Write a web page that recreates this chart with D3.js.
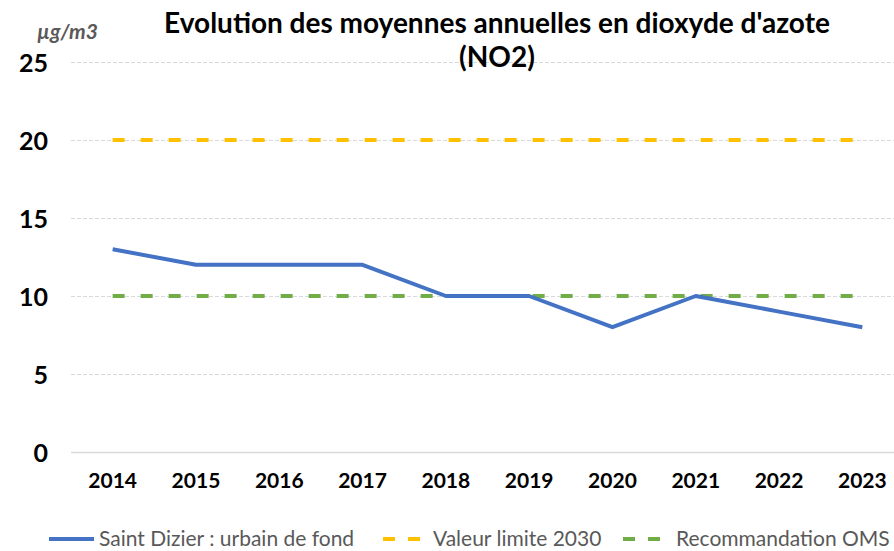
<!DOCTYPE html>
<html><head><meta charset="utf-8">
<script src="https://cdn.jsdelivr.net/npm/d3@7"></script>
<style>body{margin:0;background:#fff;overflow:hidden}svg{display:block;font-family:Lato,sans-serif}</style>
</head><body><svg id="c" width="894" height="551"></svg>
<script>
const years = ["2014","2015","2016","2017","2018","2019","2020","2021","2022","2023"];
const saintDizier = [13,12,12,12,10,10,8,10,9,8];
const valeurLimite = [20,20,20,20,20,20,20,20,20,20];
const recommandationOMS = [10,10,10,10,10,10,10,10,10,10];
const yTicks = [0,5,10,15,20,25];
const seriesNames = ["Saint Dizier : urbain de fond","Valeur limite 2030","Recommandation OMS"];
const colors = ["#4472c4","#ffc000","#70ad47"];

const svg = d3.select("#c");
const x = d3.scaleBand().domain(years).range([71, 904]);
const y = d3.scaleLinear().domain([0,25]).range([452, 62]);

// gridlines
const grid = svg.append("g").call(d3.axisLeft(y).tickValues(yTicks).tickSize(-833).tickFormat(""))
  .attr("transform","translate(71,0)");
grid.select(".domain").remove();
grid.selectAll(".tick line").attr("stroke","#d9d9d9").attr("stroke-width",1.2).attr("stroke-dasharray","4,2");
grid.selectAll(".tick").filter(d=>d===0).select("line").attr("stroke-dasharray",null).attr("stroke-width",1.5);

// y labels
const yAx = svg.append("g").attr("transform","translate(48,0)")
  .call(d3.axisLeft(y).tickValues(yTicks).tickSize(0).tickPadding(0));
yAx.select(".domain").remove();
yAx.selectAll("text").attr("font-size",25).attr("font-weight","bold").attr("fill","#000").attr("font-family","Lato").attr("dy","0.36em");

// x labels
const xAx = svg.append("g").attr("transform","translate(0,0)")
  .call(d3.axisBottom(x).tickSize(0).tickPadding(0));
xAx.select(".domain").remove();
xAx.selectAll("text").attr("font-size",21).attr("font-weight","bold").attr("fill","#000").attr("font-family","Lato")
  .attr("y",488).attr("dy",null);

const cx = d => x(d) + x.bandwidth()/2;
const line = d3.line().x((d,i)=>cx(years[i])).y(d=>y(d));

svg.append("path").datum(valeurLimite).attr("d",line).attr("fill","none")
  .attr("stroke",colors[1]).attr("stroke-width",4).attr("stroke-dasharray","12,16");
svg.append("path").datum(recommandationOMS).attr("d",line).attr("fill","none")
  .attr("stroke",colors[2]).attr("stroke-width",4).attr("stroke-dasharray","12,16");
svg.append("path").datum(saintDizier).attr("d",line).attr("fill","none")
  .attr("stroke",colors[0]).attr("stroke-width",4).attr("stroke-linejoin","round");

// title
const t = svg.append("text").attr("text-anchor","middle").attr("font-size",28).attr("font-weight","bold").attr("fill","#000");
t.append("tspan").attr("x",497).attr("y",33).text("Evolution des moyennes annuelles en dioxyde d'azote");
t.append("tspan").attr("x",497).attr("y",67).text("(NO2)");

// unit
svg.append("text").attr("x",37).attr("y",39).attr("font-size",21).attr("font-style","italic").attr("font-weight","bold")
  .attr("fill","#595959").text("µg/m3");

// legend
const leg = [
  {name:seriesNames[0], color:colors[0], x1:49, x2:94, tx:99, dash:null},
  {name:seriesNames[1], color:colors[1], x1:383, x2:420, tx:433, dash:"12,13"},
  {name:seriesNames[2], color:colors[2], x1:623, x2:660, tx:676, dash:"12,13"}
];
const lg = svg.append("g").selectAll("g").data(leg).join("g");
lg.append("line").attr("x1",d=>d.x1).attr("x2",d=>d.x2).attr("y1",539).attr("y2",539)
  .attr("stroke",d=>d.color).attr("stroke-width",4).attr("stroke-dasharray",d=>d.dash);
lg.append("text").attr("x",d=>d.tx).attr("y",546).attr("font-size",21).attr("fill","#595959").text(d=>d.name);
</script></body></html>
